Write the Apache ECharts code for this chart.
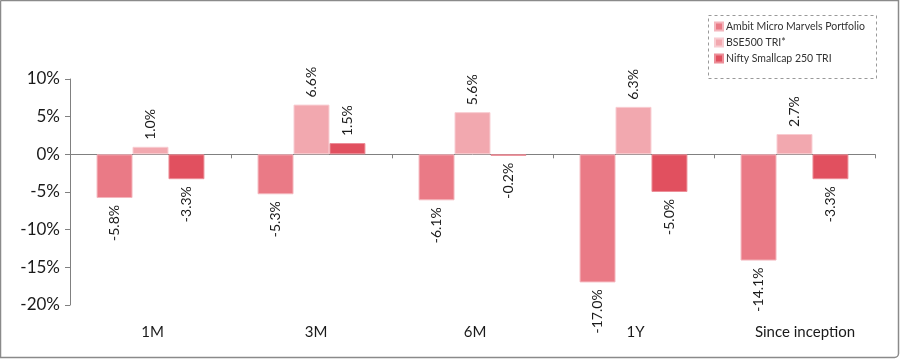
<!DOCTYPE html>
<html><head><meta charset="utf-8">
<script src="https://cdn.jsdelivr.net/npm/echarts@6/dist/echarts.min.js"></script>
<style>html,body{margin:0;padding:0;background:#fff}#c{width:900px;height:364px}</style>
</head><body><div id="c"></div>
<script>
const categories = ['1M', '3M', '6M', '1Y', 'Since inception'];
const ambit = [-5.8, -5.3, -6.1, -17.0, -14.1];
const bse500 = [1.0, 6.6, 5.6, 6.3, 2.7];
const nifty = [-3.3, 1.5, -0.2, -5.0, -3.3];
const seriesNames = ['Ambit Micro Marvels Portfolio', 'BSE500 TRI*', 'Nifty Smallcap 250 TRI'];
const colors = ['#EA7A86', '#F2A8AF', '#E1505F'];
const labelShift = [2, 4.5, 2.5, 2, 10.5];

const FONT = 'Lato, "DejaVu Sans", sans-serif';

function mk(name, vals, color, border) {
  return {
    name, type: 'bar', xAxisIndex: 0, barGap: '0%', barCategoryGap: '33%',
    itemStyle: { color, borderColor: border, borderWidth: 1 },
    data: vals.map(v => ({
      value: v,
      label: {
        show: true, rotate: 90,
        position: v >= 0 ? 'top' : 'bottom',
        align: v >= 0 ? 'left' : 'right',
        verticalAlign: 'middle',
        distance: 7,
        formatter: p => p.value.toFixed(1) + '%',
        fontSize: 14, color: '#1a1a1a', fontFamily: FONT
      }
    }))
  };
}

const chart = echarts.init(document.getElementById('c'));
chart.setOption({
  animation: false,
  backgroundColor: '#fff',
  grid: { left: 70, right: 25, top: 79, bottom: 59 },
  legend: {
    orient: 'vertical', left: 714, top: 21, itemWidth: 8, itemHeight: 8, itemGap: 5,
    icon: 'rect', padding: [0, 0, 0, 0],
    textStyle: { fontSize: 10.5, color: '#333', fontFamily: FONT, padding: [0, 0, 0, -2] },
    data: seriesNames
  },
  xAxis: [{
    type: 'category', data: categories,
    axisLine: { onZero: true, lineStyle: { color: '#808080', width: 1 } },
    axisTick: { show: true, length: 4, lineStyle: { color: '#808080' } },
    axisLabel: { show: false }
  }, {
    type: 'category', position: 'bottom',
    data: categories.map((c, i) => ({ value: c, textStyle: { padding: [0, 0, 0, labelShift[i] * 2] } })),
    axisLine: { show: false, onZero: false }, axisTick: { show: false },
    axisLabel: { show: true, margin: 20, fontSize: 15, color: '#1a1a1a', fontFamily: FONT }
  }],
  yAxis: {
    type: 'value', min: -20, max: 10, interval: 5,
    axisLine: { show: true, lineStyle: { color: '#808080' } },
    axisTick: { show: true, length: 5, lineStyle: { color: '#808080' } },
    splitLine: { show: false },
    axisLabel: { formatter: v => v + '%', fontSize: 17, color: '#1a1a1a', margin: 10, fontFamily: FONT }
  },
  series: [
    mk(seriesNames[0], ambit, colors[0], '#F4B6BD'),
    mk(seriesNames[1], bse500, colors[1], '#F8CCD1'),
    mk(seriesNames[2], nifty, colors[2], '#EC8E98')
  ],
  graphic: [
    { type: 'rect', shape: { x: 0.5, y: 0.5, width: 898, height: 357, r: [0, 0, 4, 0] },
      style: { fill: 'none', stroke: '#8a8a8a', lineWidth: 1.5 }, silent: true, z: 100 },
    { type: 'rect', shape: { x: 708.5, y: 15.5, width: 168, height: 63 },
      style: { fill: 'none', stroke: '#999', lineWidth: 1, lineDash: [3, 3] }, silent: true, z: 100 }
  ]
});
</script></body></html>
